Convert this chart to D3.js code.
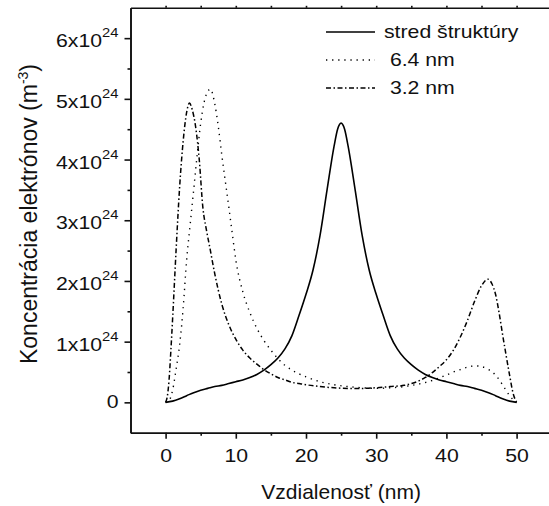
<!DOCTYPE html>
<html lang="sk">
<head>
<meta charset="UTF-8">
<title>Koncentrácia elektrónov</title>
<style>
    body {
        margin: 0;
        background: #fff;
    }

    svg {
        display: block;
    }

    text {
        font-family: "Liberation Sans", Arial, sans-serif;
        fill: #111;
    }

    .axis path,
    .axis line {
        stroke: #111;
        stroke-width: 1.6;
    }
</style>
</head>
<body>
<svg width="549" height="506"></svg>
<script src="https://cdn.jsdelivr.net/npm/d3@7"></script>
<script>
    // distance (nm) and electron concentration (x10^24 m^-3)
    const centerX = [0, 1, 2, 3, 4, 5, 6, 7, 8, 9, 10, 11, 12, 13, 14, 15, 16, 17, 18, 19, 20, 21, 22, 23, 24, 24.5, 25,
        25.5, 26, 27, 28, 29, 30, 31, 32, 33, 34, 35, 36, 37, 38, 39, 40, 41, 42, 43, 44, 45, 46, 47, 48, 49, 50];
    const centerY = [0, 0.02, 0.06, 0.11, 0.16, 0.20, 0.23, 0.26, 0.28, 0.31, 0.34, 0.37, 0.41, 0.46, 0.53, 0.62, 0.73, 0.88, 1.10, 1.43, 1.78, 2.18, 2.75, 3.50, 4.22, 4.50, 4.60,
        4.50, 4.22, 3.50, 2.75, 2.18, 1.78, 1.43, 1.10, 0.88, 0.73, 0.62, 0.53, 0.46, 0.41, 0.37, 0.34, 0.31, 0.28, 0.26, 0.23, 0.20, 0.16, 0.11, 0.06, 0.02, 0];

    const nm64X = [0, 0.5, 1, 1.5, 2, 2.5, 3, 3.5, 4, 4.5, 5, 5.5, 6, 6.4, 7, 7.5, 8, 8.5, 9, 9.5, 10, 11, 12, 13, 14, 15, 16, 17, 18, 19, 20,
        22, 24, 26, 28, 30, 32, 34, 36, 38, 40, 41, 42, 43, 44, 44.5, 45, 46, 47, 48, 49, 50];
    const nm64Y = [0, 0.03, 0.20, 0.55, 0.95, 1.55, 2.35, 2.93, 3.50, 4.08, 4.60, 4.95, 5.12, 5.16, 4.92, 4.55, 4.08, 3.65, 3.22, 2.78, 2.35, 1.82, 1.48, 1.22, 1.02, 0.86, 0.72, 0.61, 0.53, 0.47, 0.42,
        0.34, 0.29, 0.26, 0.24, 0.23, 0.24, 0.26, 0.30, 0.36, 0.45, 0.50, 0.54, 0.58, 0.60, 0.60, 0.59, 0.54, 0.45, 0.29, 0.11, 0];

    const nm32X = [0, 0.25, 0.5, 0.75, 1, 1.5, 2, 2.5, 3, 3.4, 3.8, 4.3, 4.8, 5.3, 5.8, 6.3, 7, 8, 9, 10, 11, 12, 13, 14, 15, 16, 17, 18, 19, 20,
        22, 24, 26, 28, 30, 32, 34, 35, 36, 37, 38, 39, 40, 41, 42, 43, 44, 45, 45.9, 46.5, 47, 47.5, 48, 48.5, 49, 49.5, 50];
    const nm32Y = [0, 0.10, 0.38, 0.85, 1.38, 2.52, 3.55, 4.30, 4.78, 4.93, 4.82, 4.52, 3.99, 3.22, 2.85, 2.55, 2.12, 1.62, 1.28, 1.04, 0.86, 0.73, 0.63, 0.54, 0.47, 0.41, 0.37, 0.33, 0.31, 0.29,
        0.26, 0.24, 0.23, 0.23, 0.24, 0.26, 0.28, 0.31, 0.35, 0.41, 0.49, 0.59, 0.70, 0.86, 1.08, 1.35, 1.66, 1.92, 2.03, 1.95, 1.78, 1.48, 1.12, 0.78, 0.45, 0.15, 0];

    const seriesNames = ["stred štruktúry", " 6.4 nm", " 3.2 nm"];
    const xTicks = [0, 10, 20, 30, 40, 50];
    const xMinorTicks = [5, 15, 25, 35, 45];
    const yTicks = [0, 1, 2, 3, 4, 5, 6];
    const yMinorTicks = [0.5, 1.5, 2.5, 3.5, 4.5, 5.5];

    const svg = d3.select("svg");

    const x = d3.scaleLinear().domain([-5, 55]).range([130.5, 551.7]);
    const y = d3.scaleLinear().domain([-0.5, 6.5]).range([432.7, 7.8]);

    const stretch = "scale(1.18,1)"; // text in the picture is a bit wide

    // top frame line with tiny ticks
    svg.append("g")
        .attr("class", "axis")
        .attr("transform", `translate(0,${y(6.5)})`)
        .call(d3.axisTop(x).tickValues(xTicks.concat(xMinorTicks)).tickSize(2).tickSizeOuter(0).tickFormat(""));

    // bottom axis
    const gx = svg.append("g")
        .attr("class", "axis")
        .attr("transform", `translate(0,${y(-0.5)})`)
        .call(d3.axisBottom(x).tickValues(xTicks).tickSize(6).tickSizeOuter(0));
    svg.append("g")
        .attr("class", "axis")
        .attr("transform", `translate(0,${y(-0.5)})`)
        .call(d3.axisBottom(x).tickValues(xMinorTicks).tickSize(3).tickSizeOuter(0).tickFormat(""));

    gx.attr("font-size", 18).attr("font-family", null);
    gx.selectAll(".tick text")
        .attr("y", 0)
        .attr("dy", "0.71em")
        .attr("transform", "translate(0,17) " + stretch);

    // left axis
    const gy = svg.append("g")
        .attr("class", "axis")
        .attr("transform", `translate(${x(-5)},0)`)
        .call(d3.axisLeft(y).tickValues(yTicks).tickSize(6).tickSizeOuter(0));
    svg.append("g")
        .attr("class", "axis")
        .attr("transform", `translate(${x(-5)},0)`)
        .call(d3.axisLeft(y).tickValues(yMinorTicks).tickSize(3).tickSizeOuter(0).tickFormat(""));

    gy.attr("font-size", 18).attr("font-family", null);
    gy.selectAll(".tick text").each(function (d) {
        const t = d3.select(this)
            .text(null)
            .attr("x", 0)
            .attr("dy", null)
            .attr("text-anchor", "end")
            .attr("transform", `translate(-12,${d === 0 ? 4.7 : 8.7}) ${stretch}`);
        if (d === 0) {
            t.text("0");
        } else {
            t.append("tspan").text(d + "x10");
            t.append("tspan").attr("dy", -10).attr("font-size", 12.5).text("24");
        }
    });

    // axis titles
    svg.append("text")
        .attr("x", x(25))
        .attr("y", 499)
        .attr("text-anchor", "middle")
        .attr("font-size", 21)
        .text("Vzdialenosť (nm)");

    const yTitle = svg.append("text")
        .attr("transform", "translate(37,214) rotate(-90)")
        .attr("text-anchor", "middle")
        .attr("font-size", 23);
    yTitle.append("tspan").text("Koncentrácia elektrónov (m");
    yTitle.append("tspan").attr("dy", -9).attr("font-size", 14).text("-3");
    yTitle.append("tspan").attr("dy", 9).text(")");

    // curves
    const series = [
        { name: seriesNames[0], xs: centerX, ys: centerY, dash: null, width: 1.6 },
        { name: seriesNames[1], xs: nm64X, ys: nm64Y, dash: "1.3,4.8", width: 1.4 },
        { name: seriesNames[2], xs: nm32X, ys: nm32Y, dash: "5,2.5,1.5,2.5", width: 1.5 }
    ];

    const line = d3.line()
        .x(d => x(d[0]))
        .y(d => y(d[1]))
        .curve(d3.curveMonotoneX);

    svg.selectAll(".curve")
        .data(series)
        .enter()
        .append("path")
        .attr("class", "curve")
        .attr("fill", "none")
        .attr("stroke", "#000")
        .attr("stroke-width", d => d.width)
        .attr("stroke-dasharray", d => d.dash)
        .attr("d", d => line(d.xs.map((v, i) => [v, d.ys[i]])));

    // legend
    const legend = svg.selectAll(".legend")
        .data(series)
        .enter()
        .append("g")
        .attr("class", "legend")
        .attr("transform", (d, i) => `translate(326,${32 + i * 28})`);

    legend.append("line")
        .attr("x1", 0)
        .attr("x2", 49)
        .attr("stroke", "#000")
        .attr("stroke-width", d => d.width)
        .attr("stroke-dasharray", d => d.dash);

    legend.append("text")
        .attr("transform", "translate(58,6) " + stretch)
        .attr("font-size", 18)
        .style("white-space", "pre")
        .text(d => d.name);
</script>
</body>
</html>
